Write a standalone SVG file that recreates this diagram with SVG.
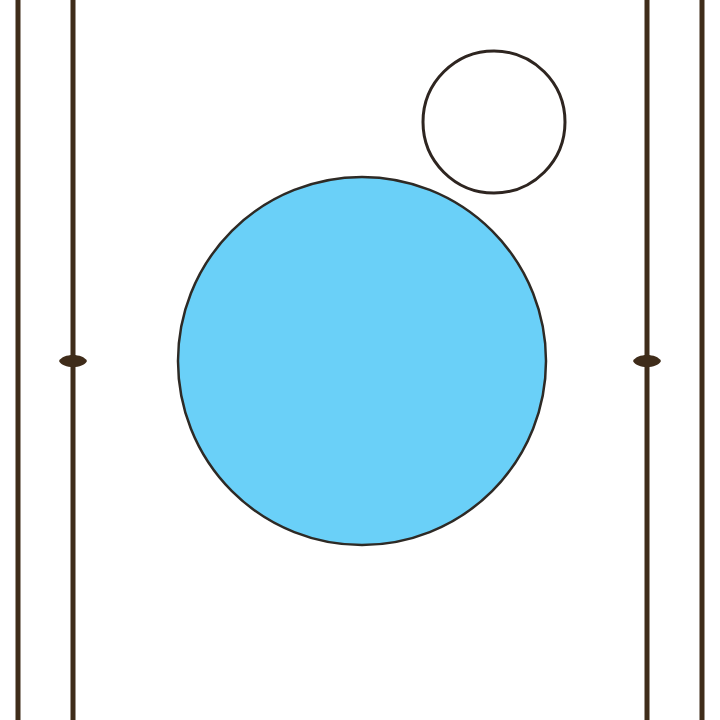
<svg xmlns="http://www.w3.org/2000/svg" width="720" height="720" viewBox="0 0 720 720">
<style>
.rail{stroke:#3f2c1a;stroke-width:5;fill:none}
.lens{fill:#3f2c1a}
</style>
<rect width="720" height="720" fill="#ffffff"/>
<g id="rails">
<line class="rail" x1="18" y1="0" x2="18" y2="720"/>
<line class="rail" x1="73" y1="0" x2="73" y2="720"/>
<line class="rail" x1="647" y1="0" x2="647" y2="720"/>
<line class="rail" x1="702" y1="0" x2="702" y2="720"/>
<path class="lens" d="M59,361 C63,353 83,353 87,361 C83,369 63,369 59,361 Z"/>
<path class="lens" d="M633,361 C637,353 657,353 661,361 C657,369 637,369 633,361 Z"/>
</g>
<g id="big-circle">
<circle cx="362" cy="361" r="184" fill="#6ad0f8" stroke="#2e2a25" stroke-width="2.5"/>
</g>
<g id="small-circle">
<circle cx="494" cy="122" r="71" fill="#ffffff" stroke="#2e2520" stroke-width="3"/>
</g>
</svg>
